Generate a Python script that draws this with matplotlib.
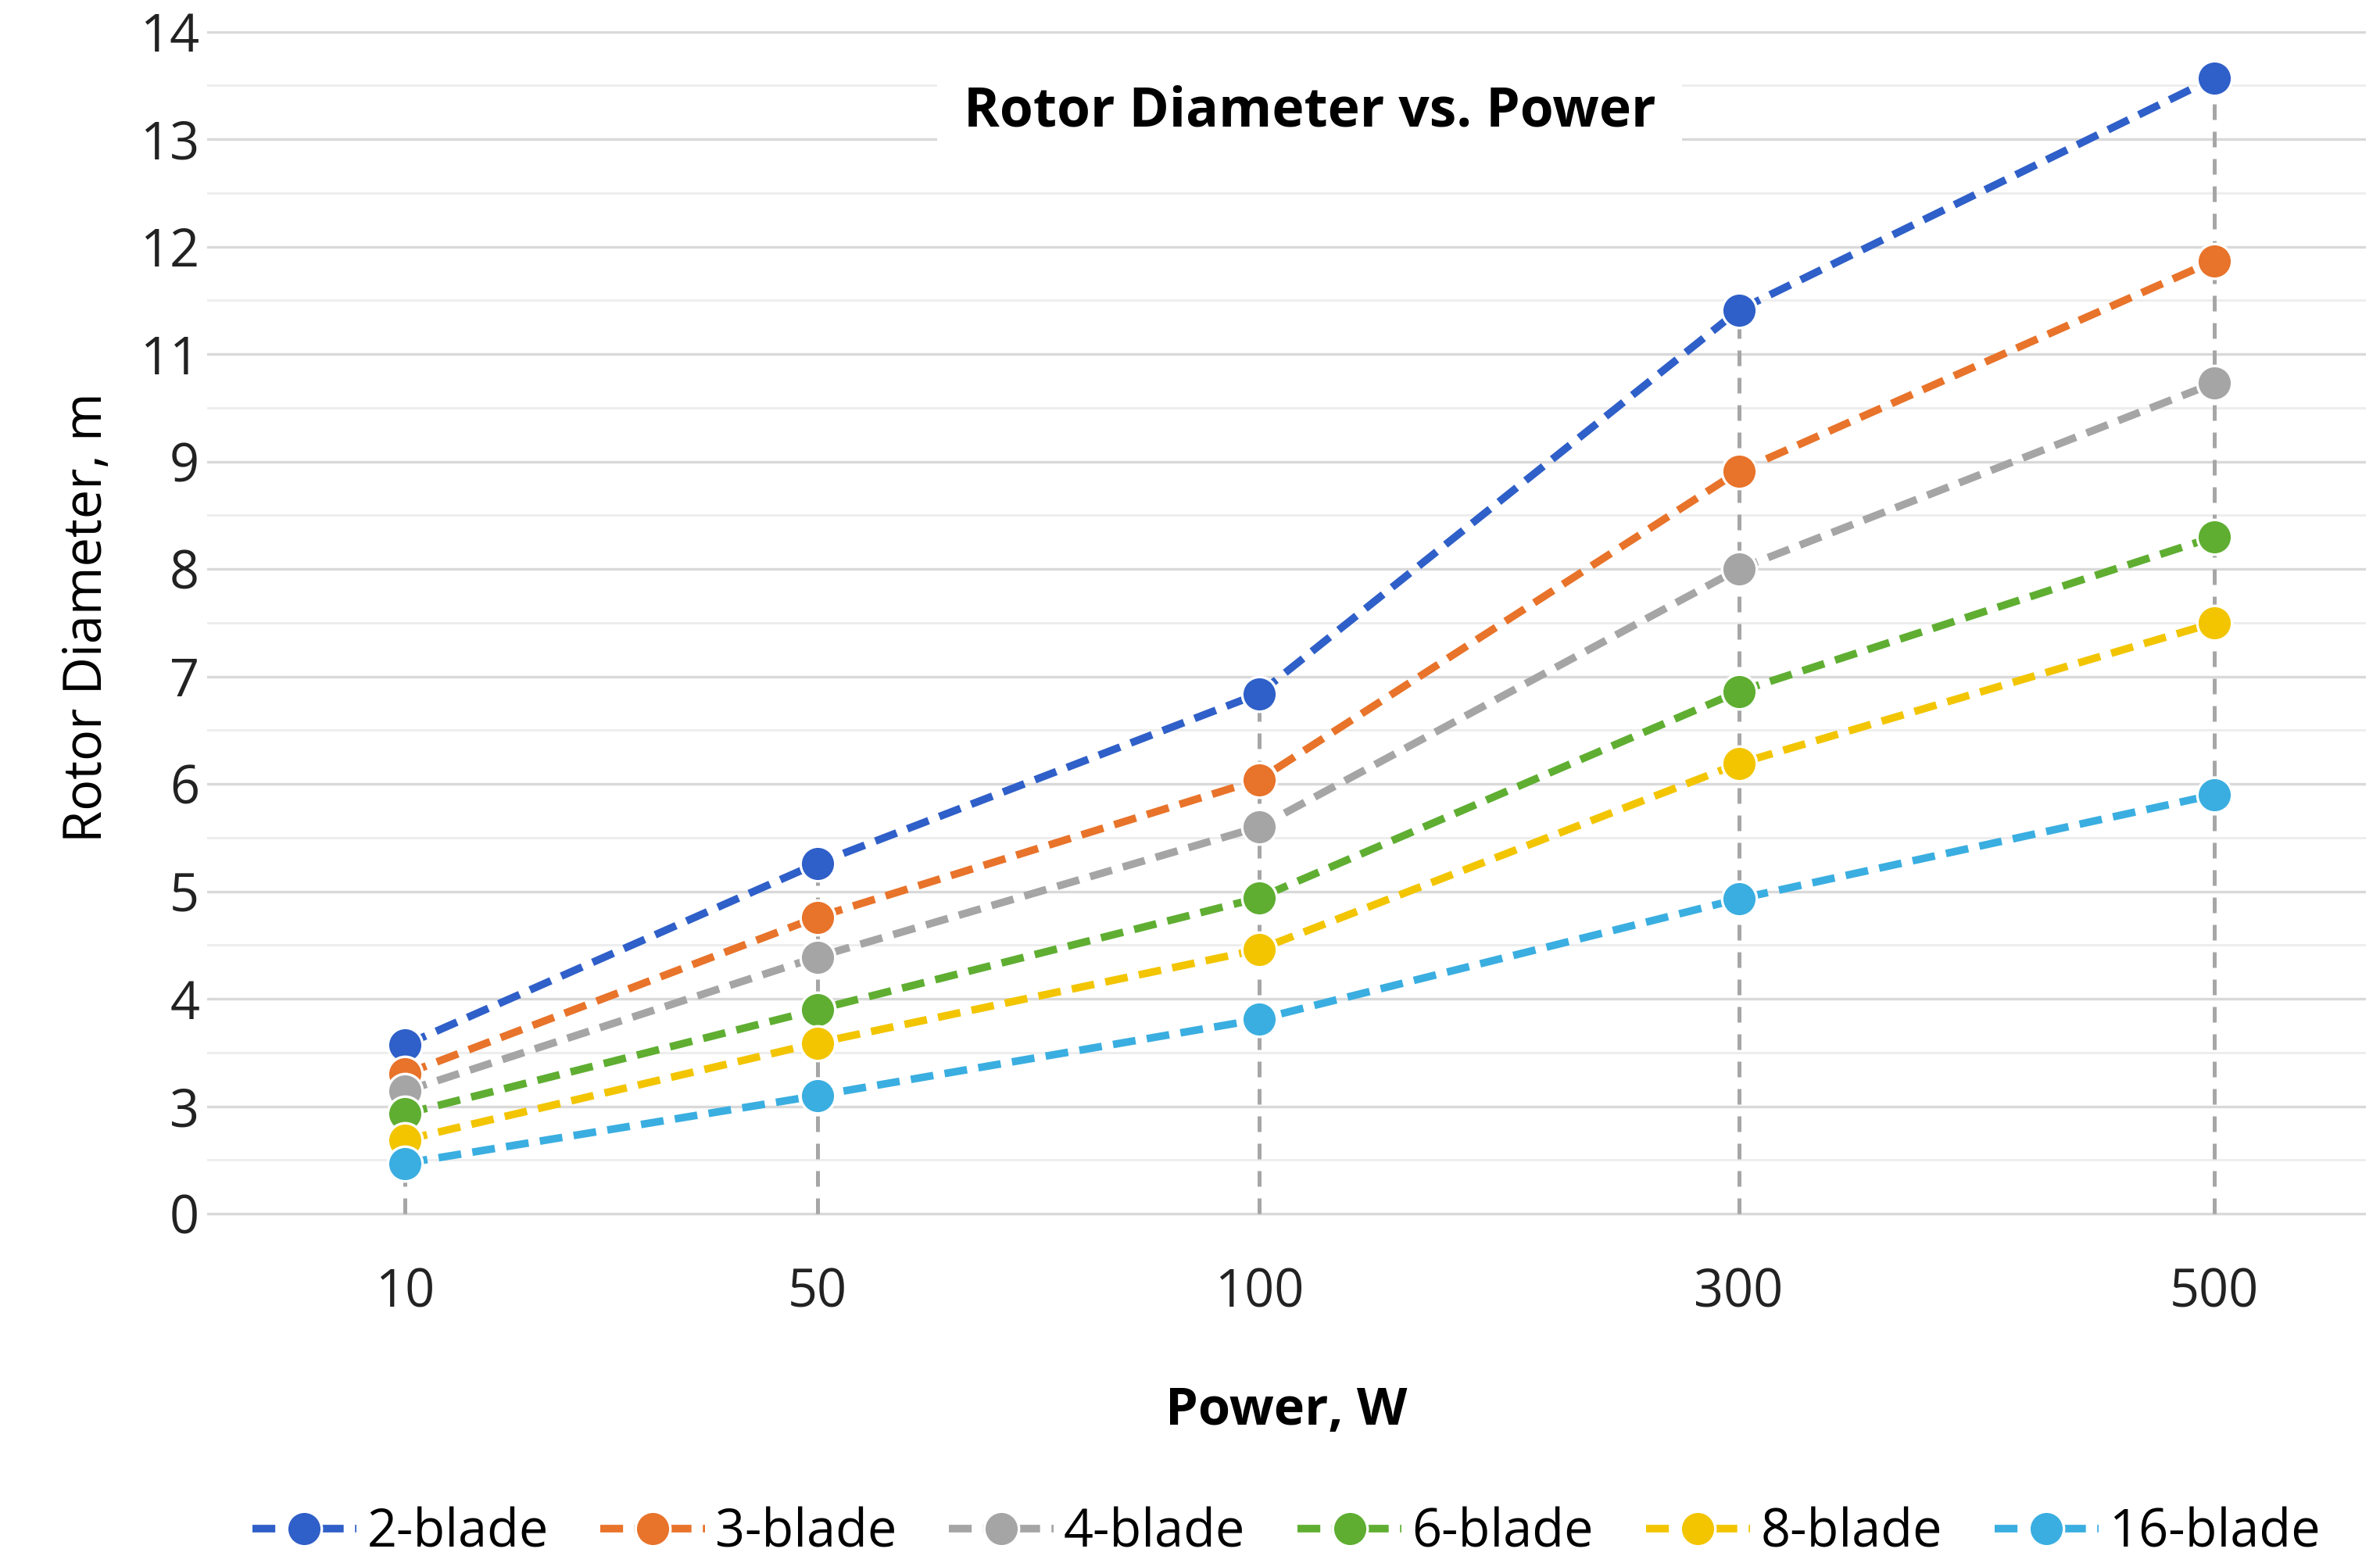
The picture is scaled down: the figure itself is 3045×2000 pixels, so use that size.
import matplotlib.pyplot as plt
import numpy as np

plt.rcParams['font.family'] = ['Open Sans', 'DejaVu Sans']

# Data
power = ["10", "50", "100", "300", "500"]
x_pos = [0, 0.98, 2.03, 3.17, 4.3]
ytick_labels = [0, 3, 4, 5, 6, 7, 8, 9, 11, 12, 13, 14]

blade_2 = [3.57, 5.26, 6.84, 11.41, 13.57]
blade_3 = [3.30, 4.76, 6.04, 8.91, 11.87]
blade_4 = [3.14, 4.39, 5.60, 8.00, 10.46]
blade_6 = [2.79, 3.90, 4.94, 6.86, 8.30]
blade_8 = [2.06, 3.59, 4.46, 6.19, 7.50]
blade_16 = [1.41, 3.10, 3.81, 4.93, 5.90]

series = [("2-blade", blade_2, "#2F5FC8"),
          ("3-blade", blade_3, "#E8732A"),
          ("4-blade", blade_4, "#A5A5A5"),
          ("6-blade", blade_6, "#5FAE32"),
          ("8-blade", blade_8, "#F2C500"),
          ("16-blade", blade_16, "#3AAEE0")]

tick_pos = np.arange(len(ytick_labels))


def to_pos(v):
    # the value axis is drawn with uneven labels on evenly spaced gridlines
    return np.interp(v, ytick_labels, tick_pos)


fig = plt.figure(figsize=(15.225, 10), dpi=200)
ax = fig.add_axes([0.087, 0.22, 0.907, 0.77])

# drop lines
top = to_pos(blade_2)
for x, t in zip(x_pos, top):
    ax.plot([x, x], [0, t], ls=(0, (4, 3)), color="#A6A6A6", lw=1.8, zorder=1)

for name, vals, col in series:
    ax.plot(x_pos, to_pos(vals), ls=(0, (3, 1.5)), lw=3.5, color=col, marker="o",
            markersize=16, markeredgecolor="white", markeredgewidth=1.2,
            label=name, zorder=3)

ax.set_yticks(tick_pos)
ax.set_yticklabels([str(v) for v in ytick_labels])
ax.set_yticks(tick_pos[:-1] + 0.5, minor=True)
ax.grid(axis="y", which="major", color="#D9D9D9", lw=1.2)
ax.grid(axis="y", which="minor", color="#EDEDED", lw=1.0)
ax.set_axisbelow(True)
ax.set_xticks(x_pos)
ax.set_xticklabels(power)
ax.tick_params(axis="both", which="both", length=0, labelsize=24, colors="#222222")
ax.tick_params(axis="x", pad=22)
for s in ax.spines.values():
    s.set_visible(False)
ax.set_xlim(-0.47, 4.66)
ax.set_ylim(-0.05, 11.15)

ax.set_xlabel("Power, W", fontsize=24, fontweight="bold", labelpad=30)
ax.set_ylabel("Rotor Diameter, m", fontsize=24, labelpad=12)
ax.text(2.15, 10.25, "Rotor Diameter vs. Power", fontsize=25, fontweight="bold",
        ha="center", va="center", zorder=5,
        bbox=dict(facecolor="white", edgecolor="none", pad=12))

ax.legend(loc="upper center", bbox_to_anchor=(0.5, -0.2), ncol=6, frameon=False,
          fontsize=24, handlelength=2.0, handletextpad=0.2, columnspacing=1.0)

fig.savefig("out.png", dpi=200)
